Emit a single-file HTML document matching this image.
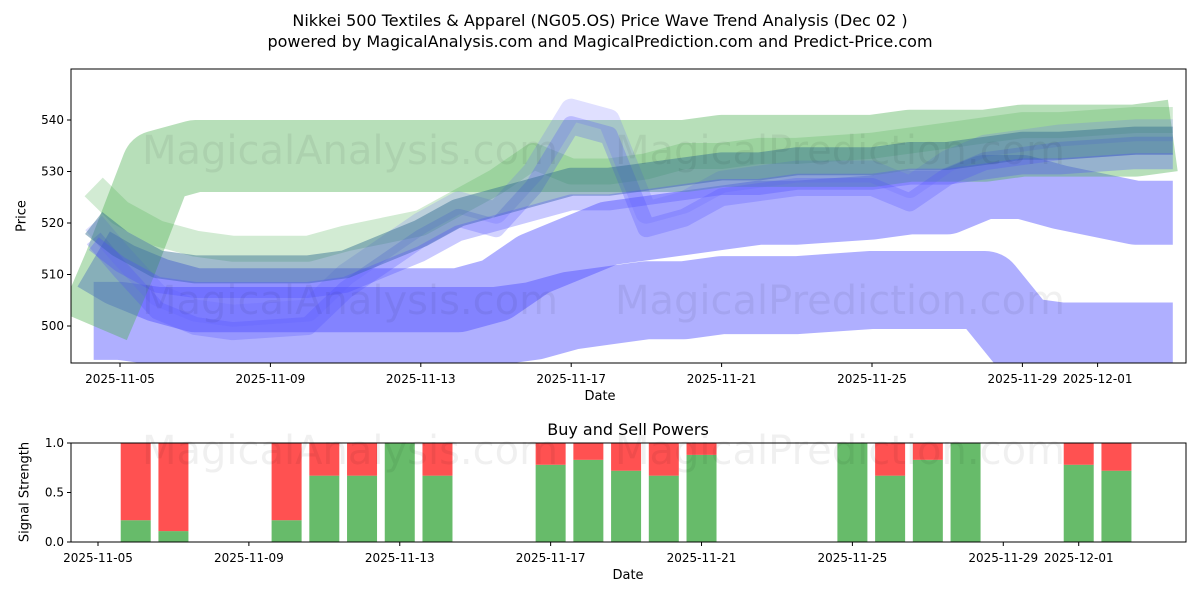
<!DOCTYPE html>
<html><head><meta charset="utf-8"><style>
body{margin:0;background:#fff;font-family:"Liberation Sans","DejaVu Sans",sans-serif}
svg text{font-family:"DejaVu Sans","Liberation Sans",sans-serif}
</style></head><body>
<svg id="c" width="1200" height="600" xmlns="http://www.w3.org/2000/svg" style="position:absolute;left:0;top:0">
<rect width="1200" height="600" fill="#fff"/>
<text x="600" y="26" text-anchor="middle" font-size="16">Nikkei 500 Textiles &amp; Apparel (NG05.OS) Price Wave Trend Analysis (Dec 02 )</text>
<text x="600" y="47" text-anchor="middle" font-size="16">powered by MagicalAnalysis.com and MagicalPrediction.com and Predict-Price.com</text>
<defs><clipPath id="cp1"><rect x="71" y="69" width="1115" height="294"/></clipPath><clipPath id="cp2"><rect x="71" y="443" width="1115" height="99"/></clipPath></defs>
<g id="topg" clip-path="url(#cp1)"></g>
<g id="botg" clip-path="url(#cp2)"></g>
<g id="axesg"></g>
</svg>
<script>
// data
const waveDays = [-0.7,0,1,2,3,5,6,8,9,10,11,12,13,14,15,16,17,18,20,21,22,23,24,25,27,28];
const greenWide = [500,512,531,533,533,533,533,533,533,533,533,533,533,533,533,534,534,534,534,535,535,535,536,536,536,537];
const blueLow   = [501,501,500,500,500,500,500,500,500,500,501,503,504,505,505,506,506,506,507,507,507,507,498,497,497,497];
const blueMid   = [513,510,507,505,505,505,505,505,505,507,512,515,518,519,520,521,522,522,523,524,524,527,527,525,522,522];
const blueWave  = [520,514,506,503,502,503,510,520,524,522,530,542,540,522,524,528,529,530,530,527,532,535,536,537,538,538];
const teal      = [520,516,512,511,511,511,512,518,522,524,526,528,528,529,530,531,531,532,532,533,533,534,535,535,536,536];
const greenThin = [527,522,518,516,515,515,517,520,524,528,533,530,530,531,533,533,534,534,535,536,537,538,539,539,540,540];
const barDays = [1,2,5,6,7,8,9,12,13,14,15,16,20,21,22,23,26,27];
const buyPower = [0.22,0.11,0.22,0.67,0.67,1.0,0.67,0.78,0.83,0.72,0.67,0.88,1.0,0.67,0.83,1.0,0.78,0.72];
const xTickLabels = ["2025-11-05","2025-11-09","2025-11-13","2025-11-17","2025-11-21","2025-11-25","2025-11-29","2025-12-01"];
const xTickDays = [0,4,8,12,16,20,24,26];
const yTicks = [500,510,520,530,540];
const sTicks = [0,0.5,1.0];

const NS="http://www.w3.org/2000/svg";
const X=d=>120+d*37.6, Y=v=>326-(v-500)*5.15;
const X2=d=>98+d*37.72, Y2=v=>542-v*99;
function mk(t,a,p){const e=document.createElementNS(NS,t);for(const k in a)e.setAttribute(k,a[k]);p.appendChild(e);return e;}
const topG=document.getElementById('topg'),botG=document.getElementById('botg'),axG=document.getElementById('axesg');
function band(vals,color,w,op,off,name){
  const pts=waveDays.map((d,i)=>X(d)+','+(Y(vals[i]+off))).join(' ');
  const e=mk('polyline',{points:pts,fill:'none',stroke:color,'stroke-width':w,'stroke-opacity':op,'stroke-linejoin':'round'},topG);
  
  
}
band(blueLow,'#4d4dff',78,0.45,0,'wave-blue-low');
band(blueMid,'#4d4dff',64,0.45,0,'wave-blue-mid');
band(greenWide,'#4caf50',72,0.4,0,'wave-green-wide');
band(greenThin,'#4caf50',26,0.25,0,'wave-green-thin');
band(blueWave,'#6666ff',22,0.2,0,'wave-blue-a');
band(blueWave,'#4d4dff',18,0.25,-3,'wave-blue-b');
band(teal,'#2e6b8f',28,0.45,0,'wave-teal');
band(teal,'#4d4dff',16,0.3,-4,'wave-blue-c');
// watermarks
const svgRoot=document.getElementById('c');
[[350,150,'MagicalAnalysis.com'],[840,150,'MagicalPrediction.com'],[350,300,'MagicalAnalysis.com'],[840,300,'MagicalPrediction.com'],[350,450,'MagicalAnalysis.com'],[840,450,'MagicalPrediction.com']].forEach(w=>{
  const t=mk('text',{x:w[0],y:w[1]+14,'text-anchor':'middle','font-size':40,fill:'#000','fill-opacity':0.06},svgRoot);t.textContent=w[2];
  
  
});
// bars
barDays.forEach((d,i)=>{
  const g=mk('rect',{x:X2(d)-15,y:Y2(buyPower[i]),width:30,height:Y2(0)-Y2(buyPower[i]),fill:'#4caf50',opacity:0.85},botG);
  
  
  const r=mk('rect',{x:X2(d)-15,y:Y2(1),width:30,height:Y2(buyPower[i])-Y2(1),fill:'#ff3333',opacity:0.85},botG);
  
  
});
// axes frames
mk('rect',{x:71,y:69,width:1115,height:294,fill:'none',stroke:'#000','stroke-width':1},axG);
mk('rect',{x:71,y:443,width:1115,height:99,fill:'none',stroke:'#000','stroke-width':1},axG);
xTickDays.forEach((d,i)=>{
  mk('line',{x1:X(d),x2:X(d),y1:363,y2:367,stroke:'#000'},axG);
  let t=mk('text',{x:X(d),y:383,'text-anchor':'middle','font-size':12},axG);t.textContent=xTickLabels[i];
  mk('line',{x1:X2(d),x2:X2(d),y1:542,y2:546,stroke:'#000'},axG);
  t=mk('text',{x:X2(d),y:562,'text-anchor':'middle','font-size':12},axG);t.textContent=xTickLabels[i];
});
yTicks.forEach(v=>{mk('line',{x1:67,x2:71,y1:Y(v),y2:Y(v),stroke:'#000'},axG);const t=mk('text',{x:64,y:Y(v)+4,'text-anchor':'end','font-size':12},axG);t.textContent=v;});
sTicks.forEach(v=>{mk('line',{x1:67,x2:71,y1:Y2(v),y2:Y2(v),stroke:'#000'},axG);const t=mk('text',{x:64,y:Y2(v)+4,'text-anchor':'end','font-size':12},axG);t.textContent=v.toFixed(1);});
</script>
<div style="position:absolute;left:0;top:0;width:1200px;height:600px;pointer-events:none">
<div style="position:absolute;left:600px;top:389px;transform:translateX(-50%);font:13px 'DejaVu Sans',sans-serif">Date</div>
<div style="position:absolute;left:22px;top:216px;transform:translate(-50%,-50%) rotate(-90deg);font:13px 'DejaVu Sans',sans-serif">Price</div>
<div style="position:absolute;left:628px;top:420px;transform:translateX(-50%);font:16px 'DejaVu Sans',sans-serif">Buy and Sell Powers</div>
<div style="position:absolute;left:628px;top:568px;transform:translateX(-50%);font:13px 'DejaVu Sans',sans-serif">Date</div>
<div style="position:absolute;left:25px;top:492px;transform:translate(-50%,-50%) rotate(-90deg);font:13px 'DejaVu Sans',sans-serif;white-space:nowrap">Signal Strength</div>
</div>
</body></html>
